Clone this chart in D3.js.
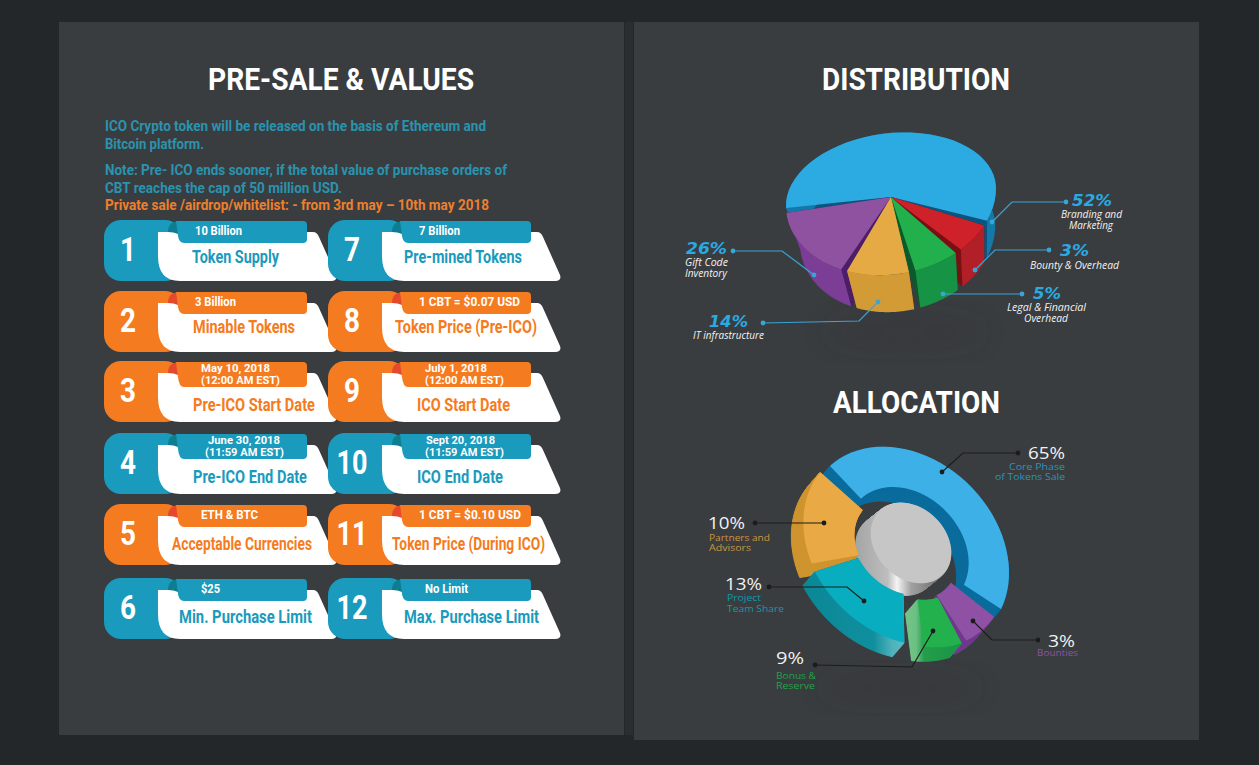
<!DOCTYPE html>
<html>
<head>
<meta charset="utf-8">
<script src="https://cdn.jsdelivr.net/npm/d3@7"></script>
<style>
  html, body { margin: 0; padding: 0; background: #24272a; overflow: hidden; }
  svg { display: block; }
</style>
</head>
<body>
<script>
// ---- data ----
const cardNumbers = ["1", "2", "3", "4", "5", "6", "7", "8", "9", "10", "11", "12"];
const cardTitles = ["Token Supply", "Minable Tokens", "Pre-ICO Start Date", "Pre-ICO End Date", "Acceptable Currencies", "Min. Purchase Limit",
                    "Pre-mined Tokens", "Token Price (Pre-ICO)", "ICO Start Date", "ICO End Date", "Token Price (During ICO)", "Max. Purchase Limit"];
const cardTags = [["10 Billion"], ["3 Billion"], ["May 10, 2018", "(12:00 AM EST)"], ["June 30, 2018", "(11:59 AM EST)"], ["ETH & BTC"], ["$25"],
                  ["7 Billion"], ["1 CBT = $0.07 USD"], ["July 1, 2018", "(12:00 AM EST)"], ["Sept 20, 2018", "(11:59 AM EST)"], ["1 CBT = $0.10 USD"], ["No Limit"]];
const cardKinds = ["b", "o", "o", "b", "o", "b", "b", "o", "o", "b", "o", "b"];

const introLines = ["ICO Crypto token will be released on the basis of Ethereum and", "Bitcoin platform.",
                    "Note: Pre- ICO ends sooner, if the total value of purchase orders of", "CBT reaches the cap of 50 million USD.",
                    "Private sale /airdrop/whitelist: - from 3rd may \u2013 10th may 2018"];

// the graphic is not drawn to scale, so shares are what each slice covers in the picture
const distNames = ["blue", "red", "green", "yellow", "purple"];
const distShares = [60.2, 6.1, 7.2, 10.1, 16.4];
const distPercents = ["52%", "3%", "5%", "14%", "26%"];
const distCaptions = [["Branding and", "Marketing"], ["Bounty & Overhead"], ["Legal & Financial", "Overhead"], ["IT infrastructure"], ["Gift Code", "Inventory"]];

const allocNames = ["blue", "purple", "green", "teal", "yellow"];
const allocShares = [49.7, 7.3, 7.0, 18.6, 17.4];
const allocPercents = ["65%", "3%", "9%", "13%", "10%"];
const allocCaptions = [["Core Phase", "of Tokens Sale"], ["Bounties"], ["Bonus &", "Reserve"], ["Project", "Team Share"], ["Partners and", "Advisors"]];

// ---- layout and styles ----
const w = 1259;
const h = 765;
const cardColor = { b: "#1a9abc", o: "#f57b20" };
const cardFold = { b: "#0e7d8f", o: "#e5482c" };
const cardX = [104, 328];
const cardY = [220, 291, 361, 433, 504, 578];
const titleDy = [37, 36, 44, 44, 40, 39];
const titleX = [[192, 87], [193, 102], [193, 122], [193, 114], [172, 140], [179, 133], [404, 118], [395, 142], [417, 93], [417, 86], [392, 153], [404, 135]];
const tagX = [[[195, 47]], [[195, 41]], [[201, 69], [201, 79]], [[208, 72], [205, 79]], [[201, 57]], [[201, 19]],
              [[419, 41]], [[419, 101]], [[425, 62], [425, 79]], [[426, 69], [425, 79]], [[419, 102]], [[425, 43]]];
const condensed = "'Liberation Sans Narrow', Roboto, sans-serif";

const svg = d3.select("body")
              .append("svg")
              .attr("width", w)
              .attr("height", h)

const defs = svg.append("defs")
defs.append("filter")
    .attr("id", "blur")
    .attr("x", "-50%").attr("y", "-150%").attr("width", "200%").attr("height", "400%")
    .append("feGaussianBlur")
    .attr("stdDeviation", 14)

function gradient(id, x1, x2, stops) {
    const g = defs.append("linearGradient")
                  .attr("id", id)
                  .attr("gradientUnits", "userSpaceOnUse")
                  .attr("x1", x1).attr("x2", x2).attr("y1", 0).attr("y2", 0)
    stops.forEach(s => g.append("stop").attr("offset", s[0]).attr("stop-color", s[1]))
}
gradient("tealWall", 800, 905, [[0, "#0b8796"], [0.7, "#0f8f9e"], [0.88, "#4fb2bb"], [1, "#5dbac2"]])
gradient("greenWall", 895, 965, [[0, "#7cc690"], [0.3, "#6cc083"], [0.42, "#239c4b"], [1, "#1a9545"]])
gradient("drum", 856, 935, [[0, "#a5a5a5"], [0.4, "#bdbdbd"], [0.52, "#f4f4f4"], [0.7, "#a0a0a0"], [1, "#777777"]])

// text squeezed or stretched to the width it has in the picture
function label(parent, str, x, cy, width, size, fill, family, weight, style) {
    const t = parent.append("text")
                    .attr("x", x)
                    .attr("y", cy + size * 0.35)
                    .attr("fill", fill)
                    .style("font-family", family)
                    .style("font-size", size + "px")
                    .style("font-weight", weight || "normal")
                    .style("font-style", style || "normal")
                    .text(str)
    if (width) t.attr("textLength", width).attr("lengthAdjust", "spacingAndGlyphs")
    return t
}

// ---- panels ----
svg.append("rect").attr("x", 625).attr("y", 22).attr("width", 8).attr("height", 713).attr("fill", "#2b2e31")
svg.append("rect").attr("x", 59).attr("y", 22).attr("width", 565).attr("height", 713).attr("fill", "#3a3d40")
svg.append("rect").attr("x", 634).attr("y", 22).attr("width", 565).attr("height", 718).attr("fill", "#3a3d40")

const headFont = "Roboto, sans-serif";
label(svg, "PRE-SALE & VALUES", 208, 79, 266, 31, "#ffffff", headFont, 700)
label(svg, "DISTRIBUTION", 822, 79, 188, 31, "#ffffff", headFont, 700)
label(svg, "ALLOCATION", 833, 402, 167, 31, "#ffffff", headFont, 700)

const introY = [126, 144, 170, 188, 205];
const introW = [381, 99, 402, 237, 384];
introLines.forEach((line, i) => {
    label(svg, line, 105, introY[i], introW[i], 15, i === 4 ? "#ee7f2d" : "#2a93ae", condensed, 700)
})

// ---- cards ----
const cards = svg.selectAll("g.card")
                 .data(cardNumbers)
                 .enter()
                 .append("g")
                 .attr("class", "card")

cards.each(function (num, i) {
    const col = i < 6 ? 0 : 1;
    const row = i % 6;
    const card = d3.select(this);
    const ox = cardX[col];
    const oy = cardY[row];
    const kind = cardKinds[i];
    const c = cardColor[kind];
    const tagBottom = row === 2 || row === 3 ? 26 : 23;
    const g = card.append("g").attr("transform", "translate(" + ox + "," + oy + ")")

    g.append("rect").attr("width", 78).attr("height", 61).attr("rx", 17).attr("fill", c)

    const body = d3.path();
    body.moveTo(54, 12);
    body.lineTo(209, 12);
    body.quadraticCurveTo(213, 12, 215, 17);
    body.lineTo(232, 55);
    body.quadraticCurveTo(234, 61, 227, 61);
    body.lineTo(76, 61);
    body.quadraticCurveTo(54, 61, 54, 36);
    body.closePath();
    g.append("path").attr("d", body.toString()).attr("fill", "#ffffff")

    const fold = d3.path();
    fold.moveTo(64, 12);
    fold.quadraticCurveTo(64, 1, 76, 1);
    fold.lineTo(80, 20);
    fold.quadraticCurveTo(76, 12, 64, 12);
    fold.closePath();
    g.append("path").attr("d", fold.toString()).attr("fill", cardFold[kind])

    const tag = d3.path();
    tag.moveTo(72, 1);
    tag.lineTo(199, 1);
    tag.quadraticCurveTo(203, 1, 203, 5);
    tag.lineTo(203, tagBottom - 4);
    tag.quadraticCurveTo(203, tagBottom, 199, tagBottom);
    tag.lineTo(80, tagBottom);
    tag.quadraticCurveTo(75, tagBottom, 74, 16);
    tag.closePath();
    g.append("path").attr("d", tag.toString()).attr("fill", c)

    card.append("text")
        .attr("x", ox + 24)
        .attr("y", oy + 41)
        .attr("text-anchor", "middle")
        .attr("textLength", num.length > 1 ? 31 : 16)
        .attr("lengthAdjust", "spacingAndGlyphs")
        .attr("fill", "#ffffff")
        .style("font-family", condensed)
        .style("font-size", "33px")
        .style("font-weight", 700)
        .text(num)

    label(card, cardTitles[i], titleX[i][0], oy + titleDy[row], titleX[i][1], 18, c, condensed, 700)

    const lines = cardTags[i];
    lines.forEach((line, k) => {
        const cy = lines.length > 1 ? oy + 7 + k * 12 : oy + 11;
        label(card, line, tagX[i][k][0], cy, tagX[i][k][1], lines.length > 1 ? 11.5 : 12.5, "#ffffff", condensed, 700)
    })
})

// ---- distribution pie ----
const rad = d => d * Math.PI / 180;
const distCx = 891, distCy = 197, distR = 105, distDepth = 37;
const distTop = { blue: "#2caae2", red: "#cf2129", green: "#21b04b", yellow: "#e6aa45", purple: "#8e52a1" };
const distWall = { blue: "#1479a8", red: "#b11f27", green: "#169344", yellow: "#d39b36", purple: "#7b3d96" };
const distFace = { blue: "#07567f", red: "#7a0f14", green: "#0b5a2a", yellow: "#a8771f", purple: "#4d1d6b" };

svg.append("ellipse").attr("cx", 905).attr("cy", 332).attr("rx", 80).attr("ry", 8)
   .attr("fill", "#2a2c2e").attr("opacity", 0.4).attr("filter", "url(#blur)")

// the near half of the disc is flattened less than the far half
function distPoint(angle, r) {
    const k = Math.cos(angle) > 0 ? 0.61 : 0.74;
    const x = distCx + r * Math.sin(angle);
    const y = distCy - r * Math.cos(angle) * k - 0.08 * (x - distCx);
    return [x, y];
}
const distDrop = p => [p[0] + 0.07 * (985 - p[0]), p[1] + distDepth];

const lineGen = d3.line();
const distPie = d3.pie().sort(null).startAngle(rad(-93.8)).endAngle(rad(266.2)).padAngle(rad(3.6));
const distArcs = distPie(distShares);
const arcSteps = d => d3.range(0, 41).map(t => d.startAngle + d.padAngle / 2 + (d.endAngle - d.startAngle - d.padAngle) * t / 40);

// back to front
[0, 1, 2, 4, 3].forEach(i => {
    const d = distArcs[i];
    const name = distNames[i];
    const rim = arcSteps(d).map(a => distPoint(a, distR));
    const apex = [distCx, distCy];
    const first = rim[0], last = rim[rim.length - 1];
    const faces = [[apex, first, distDrop(first), distDrop(apex)], [apex, last, distDrop(last), distDrop(apex)]];
    faces.forEach(f => svg.append("path").attr("d", lineGen(f) + "Z").attr("fill", distFace[name]))
    svg.append("path")
       .attr("d", lineGen(rim.concat(rim.map(distDrop).reverse())) + "Z")
       .attr("fill", distWall[name])
    svg.append("path")
       .attr("d", lineGen([apex].concat(rim)) + "Z")
       .attr("fill", distTop[name])
})

function leader(points, color) {
    svg.append("path")
       .attr("d", lineGen(points))
       .attr("fill", "none")
       .attr("stroke", color)
       .attr("stroke-width", 1.2)
    ;[points[0], points[points.length - 1]].forEach(p => {
        svg.append("circle").attr("cx", p[0]).attr("cy", p[1]).attr("r", 2.4).attr("fill", color)
    })
}

const distLeaders = [
    [[1066, 202], [1012, 202], [992, 222]],
    [[1049, 250], [995, 250], [975, 270]],
    [[1022, 294], [943, 294]],
    [[763, 323], [859, 321], [878, 302]],
    [[733, 251], [782, 251], [814, 275]]
];
distLeaders.forEach(p => leader(p, "#3aa4d6"))

const distPctPos = [[1072, 200, 40], [1060, 250, 29], [1033, 293, 28], [709, 321, 39], [686, 248, 41]];
const distCapPos = [[[1061, 214, 61], [1069, 225, 44]], [[1030, 265, 89]], [[1007, 307, 79], [1024, 318, 44]], [[693, 335, 71]], [[685, 262, 43], [685, 273, 42]]];
distPercents.forEach((pct, i) => {
    const p = distPctPos[i];
    label(svg, pct, p[0], p[1], p[2], 16, "#2aa9e2", "'DejaVu Sans', sans-serif", 700, "italic")
    distCaptions[i].forEach((line, k) => {
        const c = distCapPos[i][k];
        label(svg, line, c[0], c[1], c[2], 10, "#f2f2f2", "'Open Sans', sans-serif", "normal", "italic")
    })
})

// ---- allocation ring ----
const allocCx = 902.7, allocCy = 545, allocR = 113;
const ringInner = { blue: 68, purple: 58, green: 60, teal: 57, yellow: 56 };
const ringShift = { blue: [5, 3], purple: [3, 2], green: [8, 1], teal: [0, -1], yellow: [2, 2] };
const allocTop = { blue: "#3db0e8", purple: "#8f51a3", green: "#22b14d", teal: "#08aebf", yellow: "#e9aa45" };
const allocWall = { blue: "#0a6c9c", purple: "#6f3a8c", green: "url(#greenWall)", teal: "url(#tealWall)", yellow: "#cf942f" };
const allocDx = -12, allocDy = 14;

svg.append("ellipse").attr("cx", 900).attr("cy", 688).attr("rx", 80).attr("ry", 7)
   .attr("fill", "#2a2c2e").attr("opacity", 0.4).attr("filter", "url(#blur)")

// circle squashed across the axis pointing to the upper right
function allocPoint(angle, r, cx, cy) {
    const px = r * Math.sin(angle);
    const py = -r * Math.cos(angle);
    const m = Math.SQRT1_2;
    const c = (px * m - py * m) * (1 - 0.78);
    return [cx + px - c * m, cy + py + c * m];
}

const allocPie = d3.pie().sort(null).startAngle(rad(-46.2)).endAngle(rad(313.8)).padAngle(rad(6.4));
const allocArcs = allocPie(allocShares);

function ringOutline(d, name) {
    const steps = arcSteps(d);
    const cx = allocCx + ringShift[name][0];
    const cy = allocCy + ringShift[name][1];
    return steps.map(a => allocPoint(a, allocR, cx, cy))
                .concat(steps.slice().reverse().map(a => allocPoint(a, ringInner[name], cx, cy)));
}

// the depth is swept by repeating the outline along the extrusion direction;
// each copy is painted in user space so gradients stay put
function sweep(outline, dx, dy, paint) {
    const n = 24;
    d3.range(n, 0, -1).forEach(s => {
        const pts = outline.map(p => [p[0] + dx * s / n, p[1] + dy * s / n]);
        svg.append("path")
           .attr("d", lineGen(pts) + "Z")
           .attr("fill", paint)
           .attr("stroke", paint)
           .attr("stroke-width", 1)
    })
}

function drawRing(i) {
    const d = allocArcs[i];
    const name = allocNames[i];
    const outline = ringOutline(d, name);
    sweep(outline, allocDx, allocDy, allocWall[name])
    svg.append("path").attr("d", lineGen(outline) + "Z").attr("fill", allocTop[name])
}

function drawDrum() {
    const cx = 911, cy = 543, r = 45;
    const rim = d3.range(0, 73).map(t => allocPoint(rad(t * 5), r, cx, cy));
    sweep(rim, -15, 12, "url(#drum)")
    svg.append("path").attr("d", lineGen(rim) + "Z").attr("fill", "#c6c6c6")
}

drawRing(0)
drawDrum()
drawRing(4)
drawRing(1)
drawRing(2)
drawRing(3)

const allocLeaders = [
    [[1018, 453], [963, 453], [942, 472]],
    [[1038, 640], [992, 640], [973, 621]],
    [[815, 665], [912, 667], [933, 631]],
    [[769, 587], [847, 587], [864, 601]],
    [[755, 523], [824, 523]]
];
allocLeaders.forEach(p => leader(p, "#1c1c1c"))

const allocPctPos = [[1028, 453, 37], [1048, 641, 27], [776, 658, 28], [725, 584, 37], [708, 523, 37]];
const allocCapColor = ["#2a93b8", "#8e52a1", "#22a04b", "#0f9aa8", "#c9963c"];
const allocCapPos = [[[1009, 467, 56], [995, 477, 70]], [[1037, 653, 41]], [[776, 676, 40], [776, 686, 39]], [[727, 598, 34], [727, 609, 57]], [[709, 538, 61], [709, 548, 42]]];
allocPercents.forEach((pct, i) => {
    const p = allocPctPos[i];
    label(svg, pct, p[0], p[1], p[2], 17, "#f2f2f2", "'Open Sans', sans-serif")
    allocCaptions[i].forEach((line, k) => {
        const c = allocCapPos[i][k];
        label(svg, line, c[0], c[1], c[2], 9.5, allocCapColor[i], "'Open Sans', sans-serif")
    })
})
</script>
</body>
</html>
